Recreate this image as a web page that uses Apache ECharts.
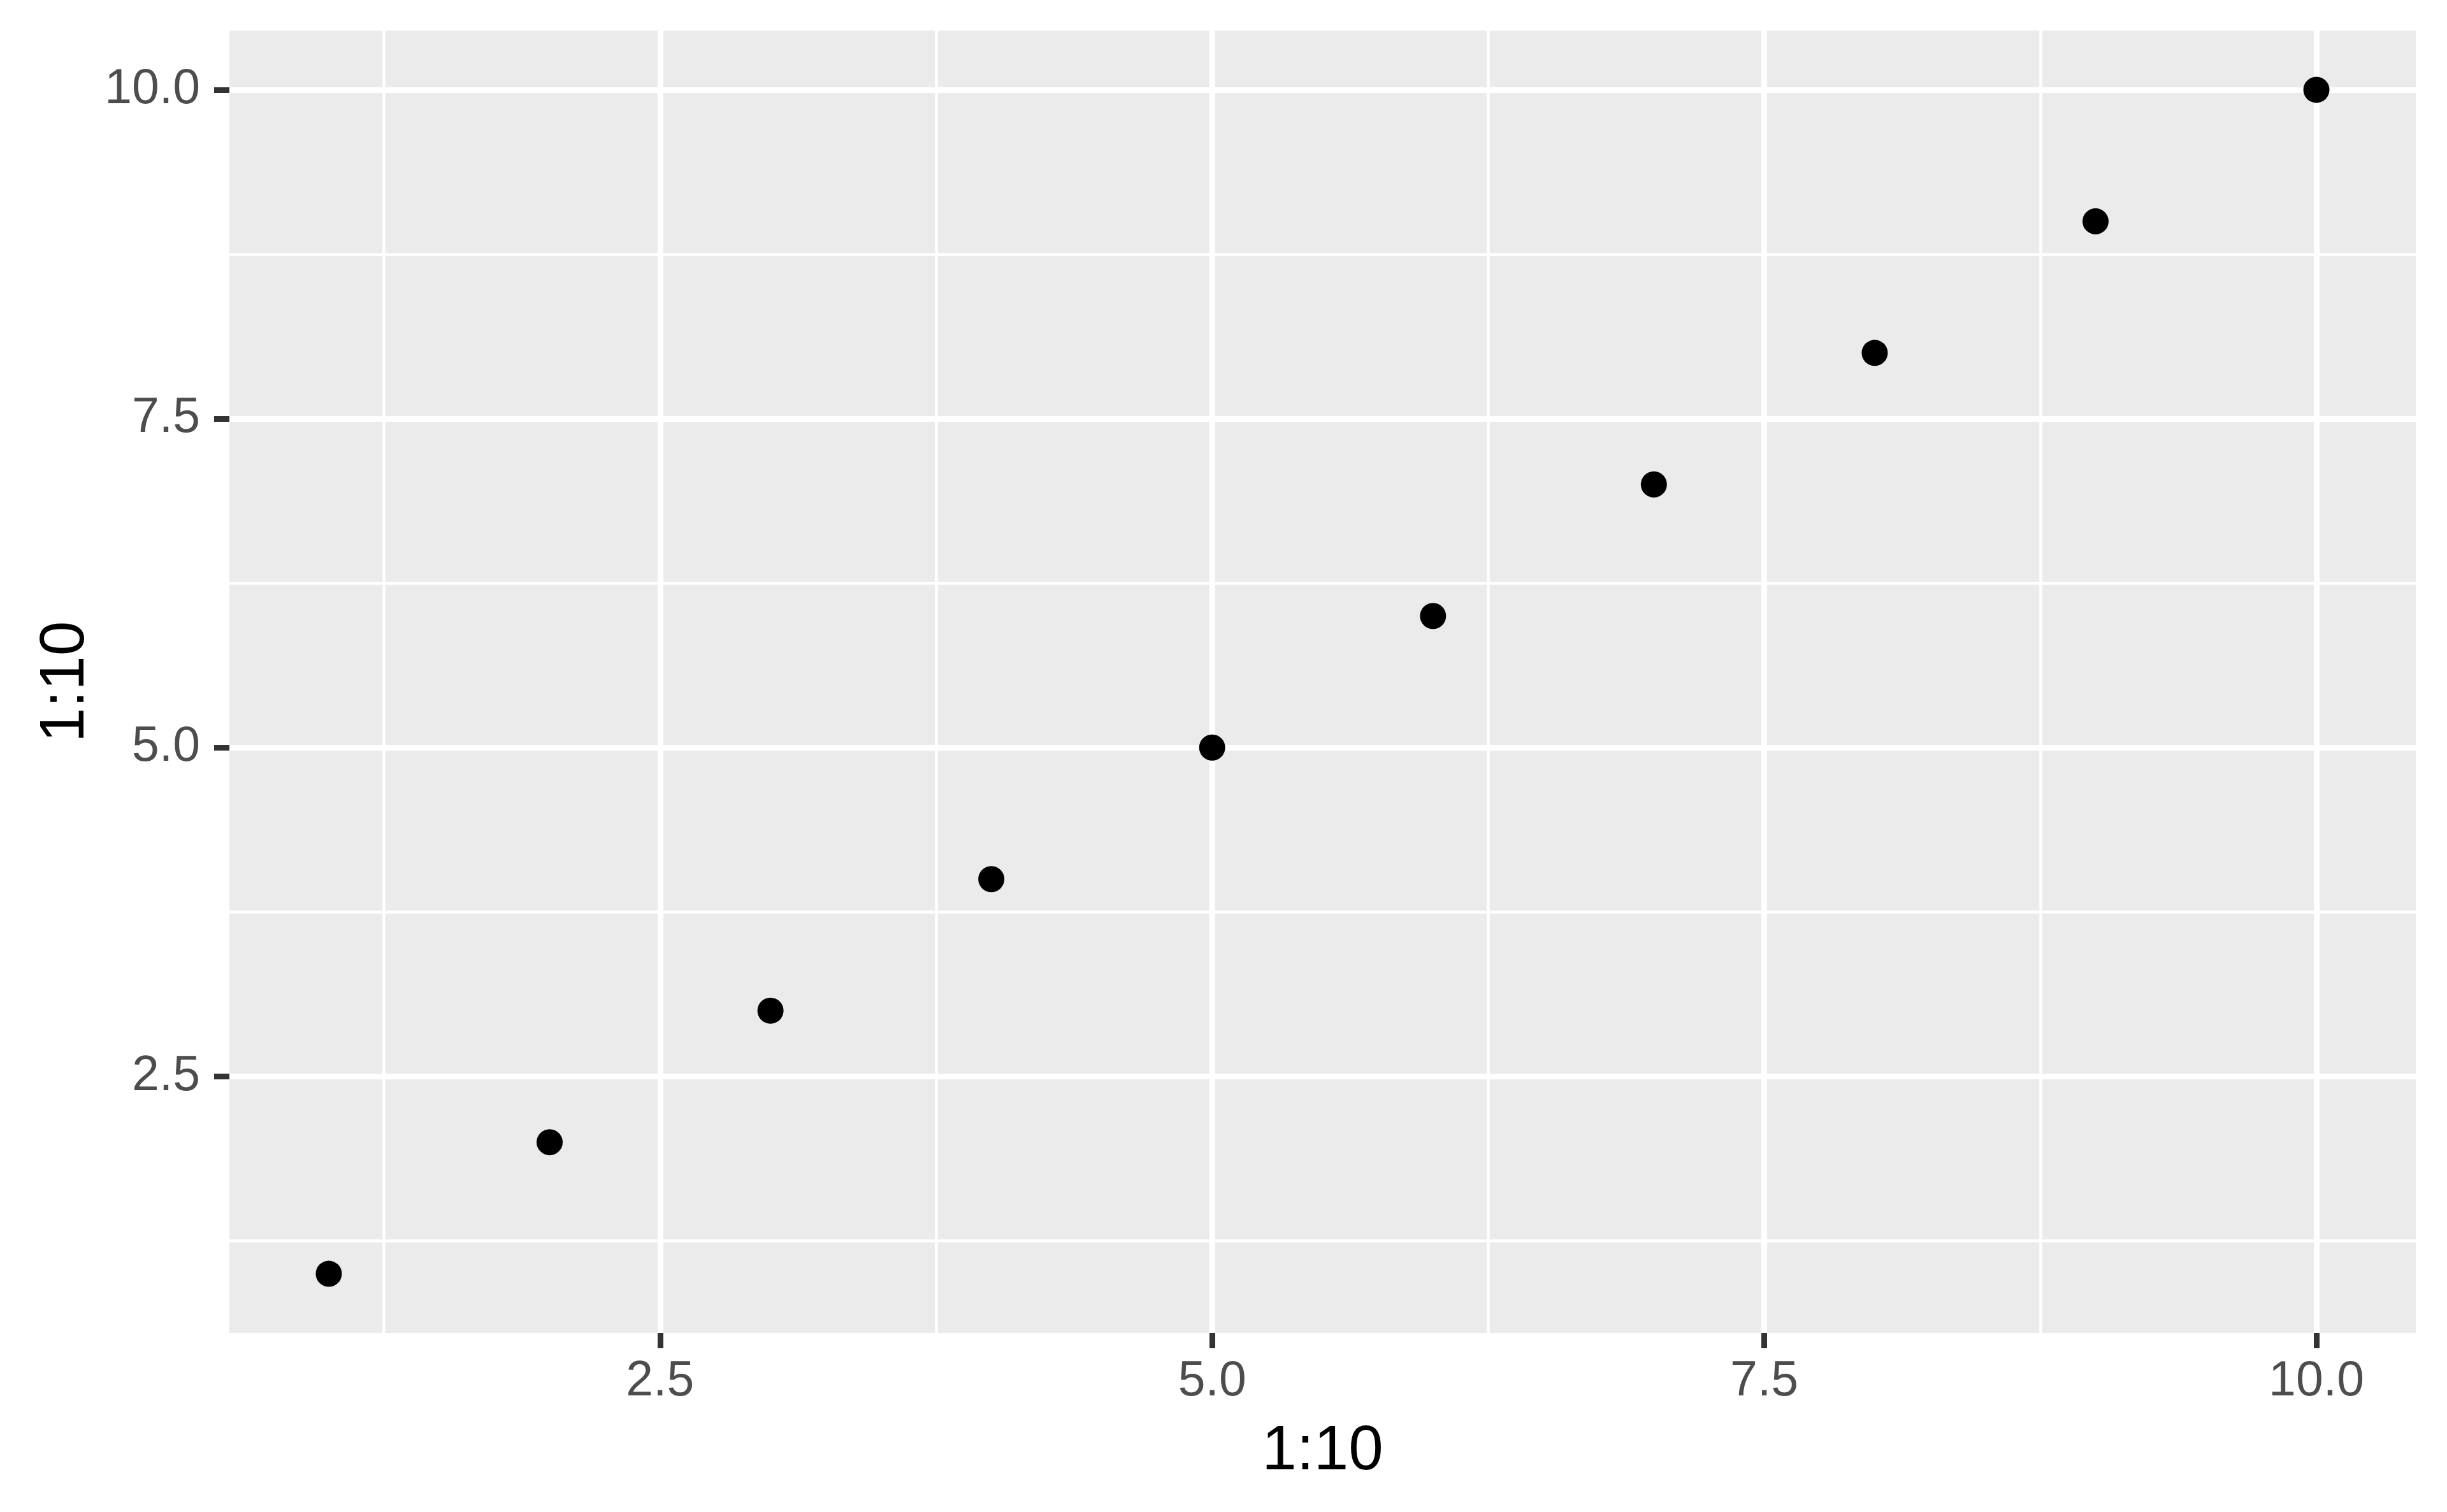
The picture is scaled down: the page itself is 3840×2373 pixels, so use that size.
<!DOCTYPE html>
<html>
<head>
<meta charset="utf-8">
<script src="https://cdn.jsdelivr.net/npm/echarts@6/dist/echarts.min.js"></script>
<style>
html,body{margin:0;padding:0;background:#fff;}
#c{width:3840px;height:2373px;}
</style>
</head>
<body>
<div id="c"></div>
<script>
// Data
const xValues = [1, 2, 3, 4, 5, 6, 7, 8, 9, 10];
const yValues = [1, 2, 3, 4, 5, 6, 7, 8, 9, 10];
const xMajorTicks = [2.5, 5.0, 7.5, 10.0];
const yMajorTicks = [2.5, 5.0, 7.5, 10.0];
const xMinorTicks = [1.25, 3.75, 6.25, 8.75];
const yMinorTicks = [1.25, 3.75, 6.25, 8.75];
const xTitle = '1:10';
const yTitle = '1:10';
const axisMin = 0.55, axisMax = 10.45;

const points = xValues.map((x, i) => [x, yValues[i]]);
const FONT = '"Liberation Sans", Arial, Helvetica, sans-serif';

const chart = echarts.init(document.getElementById('c'), null, {renderer: 'canvas'});

function majorAxis(dim, ticks, title) {
  const isX = dim === 'x';
  return {
    type: 'value',
    min: axisMin, max: axisMax,
    position: isX ? 'bottom' : 'left',
    name: title,
    nameLocation: 'middle',
    nameGap: isX ? 138 : 207,
    nameTextStyle: {color: '#000', fontSize: 98, fontFamily: FONT},
    axisLine: {show: false},
    axisTick: {show: true, length: 24, lineStyle: {color: '#333333', width: 9}, customValues: ticks},
    axisLabel: {
      show: true, color: '#4D4D4D', fontSize: 77, fontFamily: FONT,
      margin: isX ? 38 : 46,
      customValues: ticks,
      formatter: v => v.toFixed(1)
    },
    splitLine: {show: true, lineStyle: {color: '#FFFFFF', width: 9}},
    z: 2
  };
}
function minorAxis(dim, ticks) {
  const isX = dim === 'x';
  return {
    type: 'value',
    min: axisMin, max: axisMax,
    position: isX ? 'top' : 'right',
    axisLine: {show: false},
    axisTick: {show: false, customValues: ticks},
    axisLabel: {show: false, customValues: ticks},
    splitLine: {show: true, lineStyle: {color: '#FFFFFF', width: 4.5}},
    z: 1
  };
}

chart.setOption({
  animation: false,
  backgroundColor: '#FFFFFF',
  grid: {left: 360, right: 49, top: 48, bottom: 281, show: true, backgroundColor: '#EBEBEB', borderWidth: 0, containLabel: false},
  xAxis: [majorAxis('x', xMajorTicks, xTitle), minorAxis('x', xMinorTicks)],
  yAxis: [majorAxis('y', yMajorTicks, yTitle), minorAxis('y', yMinorTicks)],
  series: [{
    type: 'scatter',
    xAxisIndex: 0, yAxisIndex: 0,
    data: points,
    symbol: 'circle',
    symbolSize: 41,
    itemStyle: {color: '#000000', opacity: 1},
    z: 5
  }]
});
</script>
</body>
</html>
